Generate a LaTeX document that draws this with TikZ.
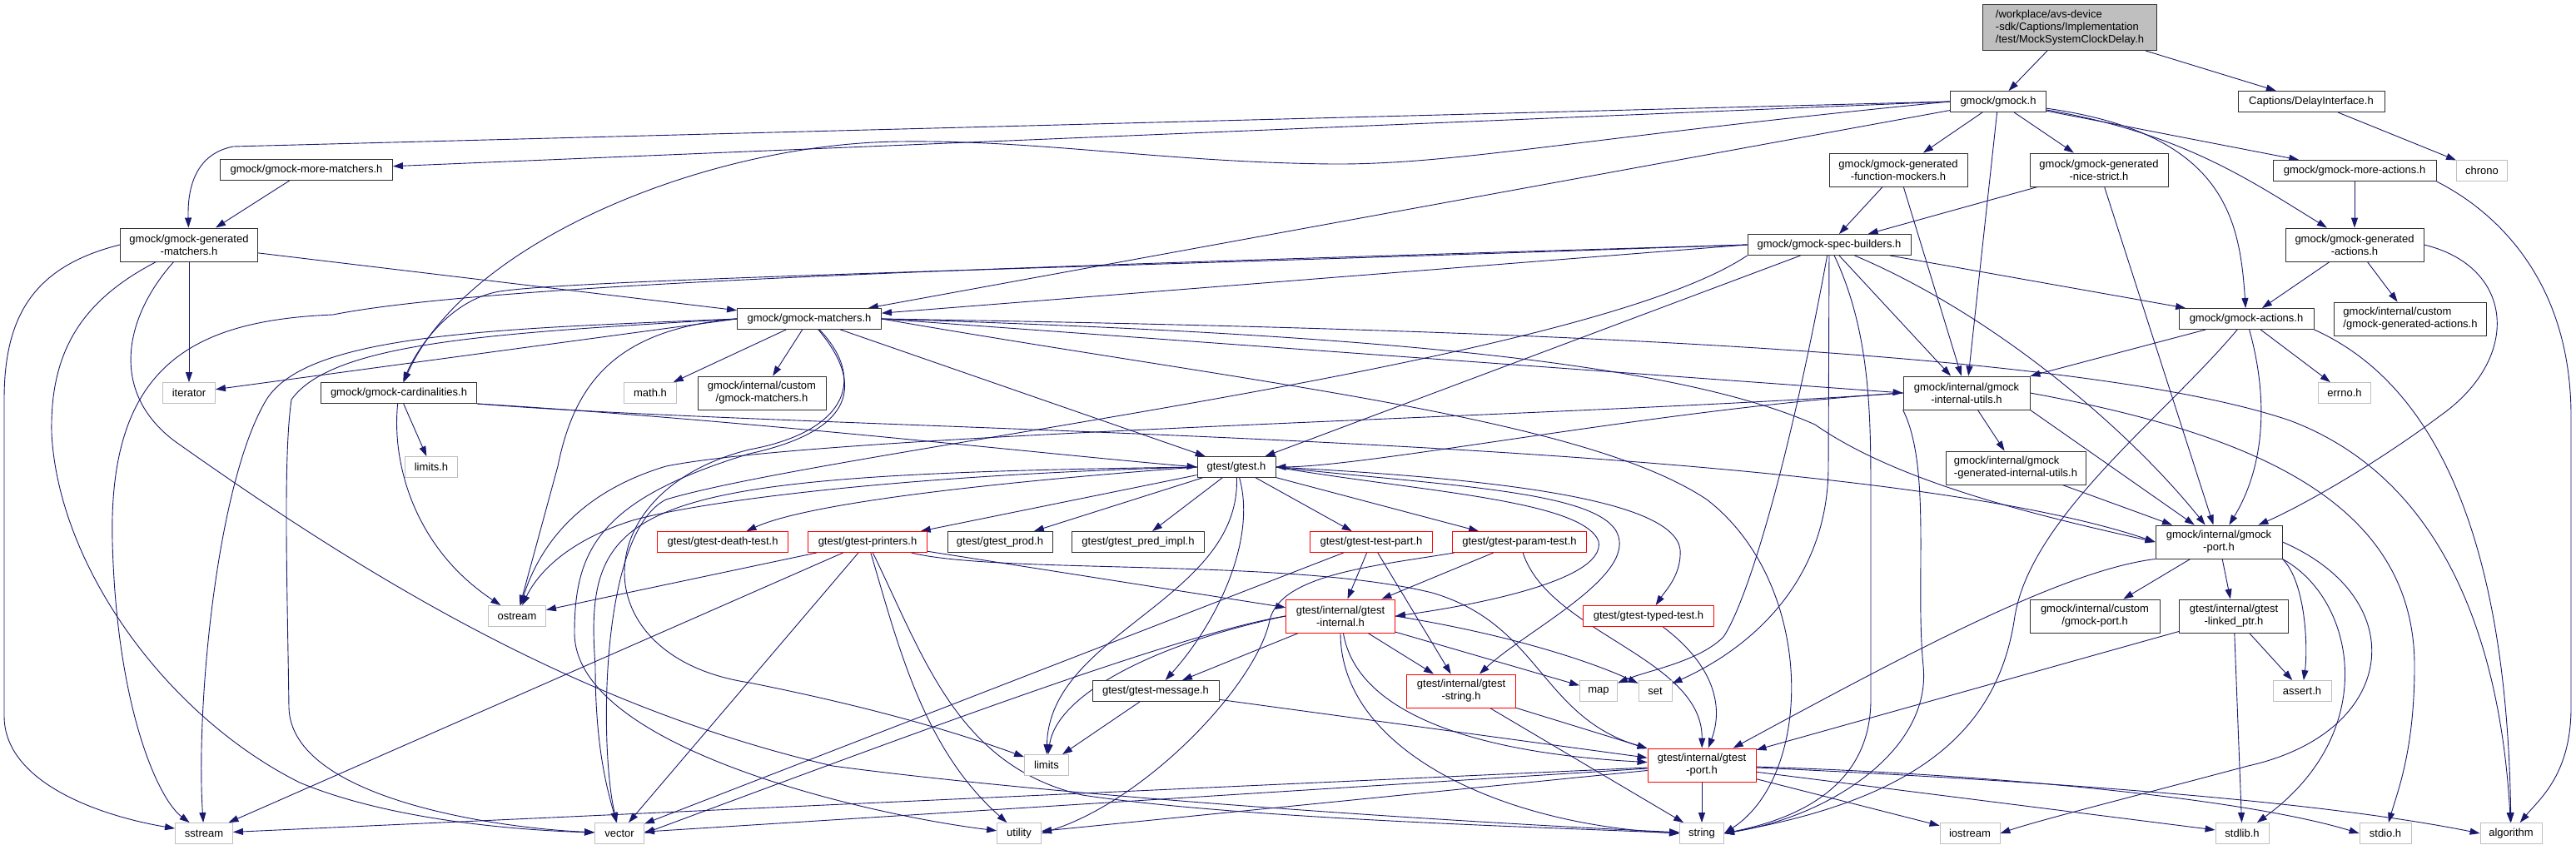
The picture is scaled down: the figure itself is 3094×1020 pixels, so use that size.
\documentclass[tikz,border=0pt]{standalone}
\usepackage{fontspec}
\setmainfont{Liberation Sans}
\usetikzlibrary{arrows.meta}
\definecolor{edgec}{HTML}{191970}
\definecolor{sysc}{HTML}{BFBFBF}
\definecolor{rootf}{HTML}{BFBFBF}
\definecolor{boxc}{HTML}{303030}
\newcommand\dxfont{\fontsize{13}{15}\selectfont}
\pgfdeclarelayer{bgl}
\pgfdeclarelayer{edgel}
\pgfsetlayers{bgl,edgel,main}
\tikzset{
  box/.style={draw=boxc, fill=white, line width=0.9pt, inner sep=0pt, align=center, font=\dxfont, minimum height=25pt},
  two/.style={minimum height=40pt},
  sysbox/.style={box, draw=sysc},
  redbox/.style={box, draw=red},
  dep/.style={draw=edgec, line width=0.9pt, -{Triangle[length=12pt,width=8pt]}}
}
\begin{document}
\begin{tikzpicture}[x=1pt,y=-1pt]
\begin{pgfonlayer}{bgl}
\fill[white] (0,0) rectangle (3094,1020);
\end{pgfonlayer}
\useasboundingbox (0,0) rectangle (3094,1020);
% nodes
\node[box, fill=rootf, align=left, minimum width=209pt, minimum height=55pt] (root) at (2486,33) {/workplace/avs-device\\-sdk/Captions/Implementation\\/test/MockSystemClockDelay.h};
\node[box, minimum width=115pt] (gmock) at (2400,122) {gmock/gmock.h};
\node[box, minimum width=176pt] (delay) at (2776,122) {Captions/DelayInterface.h};
\node[sysbox, minimum width=61pt] (chrono) at (2981,205) {chrono};
\node[box, minimum width=196pt] (moreact) at (2828,205) {gmock/gmock-more-actions.h};
\node[box, two, minimum width=166pt] (nicestrict) at (2521,204) {gmock/gmock-generated\\-nice-strict.h};
\node[box, two, minimum width=166pt] (funcmock) at (2280,204) {gmock/gmock-generated\\-function-mockers.h};
\node[box, two, minimum width=166pt] (genact) at (2828,294) {gmock/gmock-generated\\-actions.h};
\node[box, two, align=left, minimum width=183pt] (custgenact) at (2895,383) {gmock/internal/custom\\/gmock-generated-actions.h};
\node[box, minimum width=162pt] (actions) at (2698,383) {gmock/gmock-actions.h};
\node[sysbox, minimum width=63pt] (errno) at (2816,472) {errno.h};
\node[box, two, minimum width=152pt] (iutils) at (2362,472) {gmock/internal/gmock\\-internal-utils.h};
\node[box, minimum width=196pt] (spec) at (2197,294) {gmock/gmock-spec-builders.h};
\node[box, minimum width=207pt] (morematch) at (368,204) {gmock/gmock-more-matchers.h};
\node[box, two, minimum width=165pt] (genmatch) at (227,294) {gmock/gmock-generated\\-matchers.h};
\node[sysbox, minimum width=63pt] (iterator) at (227,472) {iterator};
\node[box, minimum width=187pt] (card) at (479,472) {gmock/gmock-cardinalities.h};
\node[sysbox, minimum width=63pt] (mathh) at (781,472) {math.h};
\node[box, minimum width=173pt] (matchers) at (972,383) {gmock/gmock-matchers.h};
\node[box, two, minimum width=154pt] (custmatch) at (915,472) {gmock/internal/custom\\/gmock-matchers.h};
\node[sysbox, minimum width=63pt] (limitsh) at (518,561) {limits.h};
\node[sysbox, minimum width=69pt] (ostream) at (621,740) {ostream};
\node[sysbox, minimum width=69pt] (sstream) at (245,1001) {sstream};
\node[sysbox, minimum width=59pt] (vector) at (744,1001) {vector};
\node[redbox, minimum width=157pt] (deathtest) at (868,651) {gtest/gtest-death-test.h};
\node[box, minimum width=94pt] (gtesth) at (1485,561) {gtest/gtest.h};
\node[redbox, minimum width=143pt] (printers) at (1042,651) {gtest/gtest-printers.h};
\node[box, minimum width=126pt] (prod) at (1201,651) {gtest/gtest\_prod.h};
\node[box, minimum width=159pt] (predimpl) at (1367,651) {gtest/gtest\_pred\_impl.h};
\node[box, minimum width=152pt] (gmessage) at (1388,830) {gtest/gtest-message.h};
\node[sysbox, minimum width=53pt] (limits) at (1257,919) {limits};
\node[sysbox, minimum width=53pt] (utility) at (1224,1001) {utility};
\node[redbox, minimum width=147pt] (testpart) at (1647,651) {gtest/gtest-test-part.h};
\node[redbox, minimum width=161pt] (paramtest) at (1825,651) {gtest/gtest-param-test.h};
\node[redbox, two, minimum width=131pt] (ginternal) at (1610,740) {gtest/internal/gtest\\-internal.h};
\node[redbox, minimum width=157pt] (typedtest) at (1980,740) {gtest/gtest-typed-test.h};
\node[redbox, two, minimum width=131pt] (gstring) at (1755,830) {gtest/internal/gtest\\-string.h};
\node[sysbox, minimum width=45pt] (map) at (1920,830) {map};
\node[sysbox, minimum width=40pt] (set) at (1988,830) {set};
\node[redbox, two, minimum width=130pt] (gport) at (2044,919) {gtest/internal/gtest\\-port.h};
\node[sysbox, minimum width=53pt] (string) at (2044,1001) {string};
\node[box, two, align=left, minimum width=168pt] (geniutils) at (2421,562) {gmock/internal/gmock\\-generated-internal-utils.h};
\node[box, two, minimum width=152pt] (gmockport) at (2665,651) {gmock/internal/gmock\\-port.h};
\node[box, two, minimum width=156pt] (custport) at (2516,740) {gmock/internal/custom\\/gmock-port.h};
\node[box, two, minimum width=131pt] (linkedptr) at (2683,740) {gtest/internal/gtest\\-linked\_ptr.h};
\node[sysbox, minimum width=70pt] (asserth) at (2765,830) {assert.h};
\node[sysbox, minimum width=72pt] (iostream) at (2366,1001) {iostream};
\node[sysbox, minimum width=64pt] (stdlib) at (2693,1001) {stdlib.h};
\node[sysbox, minimum width=62pt] (stdio) at (2865,1001) {stdio.h};
\node[sysbox, minimum width=74pt] (algorithm) at (3016,1001) {algorithm};
% edges
\begin{pgfonlayer}{edgel}
\draw[dep] (root) -- (gmock);
\draw[dep] (root) -- (delay);
\draw[dep] (delay) -- (chrono);
% gmock.h
\draw[dep] (gmock) -- (funcmock);
\draw[dep] (gmock) -- (nicestrict);
\draw[dep] (gmock) -- (iutils);
\draw[dep] (gmock) .. controls (2670,160) and (2690,260) .. (actions);
\draw[dep] (gmock) .. controls (2620,160) and (2700,215) .. (genact);
\draw[dep] (gmock) -- (moreact);
\draw[dep] (gmock.west) -- (morematch);
\draw[dep] (gmock.west) -- (280,176) .. controls (235,185) and (225,225) .. (genmatch);
\draw[dep] (gmock) -- (matchers);
\draw[dep] (gmock.west) .. controls (1900,165) and (1750,198) .. (1600,197) .. controls (1400,195) and (1250,168) .. (1082,170) .. controls (850,172) and (560,290) .. (card);
% matchers family
\draw[dep] (morematch) -- (genmatch);
\draw[dep] (genmatch) -- (iterator);
\draw[dep] (genmatch) -- (matchers);
\draw[dep] (genmatch.west) .. controls (40,320) and (5,380) .. (5,480) -- (5,860) .. controls (5,940) and (120,980) .. (sstream);
\draw[dep] (genmatch) .. controls (100,360) and (60,420) .. (62,520) .. controls (70,680) and (200,860) .. (360,940) .. controls (480,990) and (650,998) .. (vector);
\draw[dep] (genmatch) .. controls (150,380) and (130,470) .. (210,530) .. controls (450,700) and (700,850) .. (1000,920) .. controls (1300,960) and (1800,990) .. (string);
\draw[dep] (matchers) -- (mathh);
\draw[dep] (matchers) -- (custmatch);
\draw[dep] (matchers.west) -- (iterator);
\draw[dep] (matchers.west) .. controls (740,395) and (690,460) .. (670,560) -- (ostream);
\draw[dep] (matchers.west) .. controls (600,395) and (370,400) .. (320,480) .. controls (260,580) and (235,850) .. (sstream);
\draw[dep] (matchers.west) .. controls (600,400) and (400,410) .. (350,480) .. controls (340,550) and (345,700) .. (347,850) .. controls (350,960) and (600,995) .. (vector);
\draw[dep] (matchers) .. controls (1045,460) and (1010,520) .. (900,540) .. controls (700,590) and (700,790) .. (900,820) .. controls (1050,850) and (1150,880) .. (limits);
\draw[dep] (matchers) .. controls (1045,470) and (1015,520) .. (900,545) .. controls (720,600) and (690,660) .. (690,760) .. controls (690,900) and (1050,980) .. (utility);
\draw[dep] (matchers.east) -- (iutils.west);
\draw[dep] (matchers) -- (gtesth);
\draw[dep] (matchers.east) .. controls (1500,460) and (1900,500) .. (2050,600) .. controls (2180,700) and (2180,930) .. (string.east);
\draw[dep] (matchers.east) .. controls (1600,400) and (2000,430) .. (2180,510) .. controls (2280,580) and (2450,620) .. (gmockport.west);
\draw[dep] (matchers.east) .. controls (1800,395) and (2500,420) .. (2750,505) .. controls (2950,580) and (3005,800) .. (algorithm);
% cardinalities
\draw[dep] (card) -- (limitsh);
\draw[dep] (card) .. controls (470,560) and (500,660) .. (ostream);
\draw[dep] (card.south east) .. controls (900,505) and (1250,545) .. (gtesth.west);
\draw[dep] (card.south east) .. controls (1000,520) and (2200,520) .. (gmockport.west);
% spec builders
\draw[dep] (spec) -- (actions);
\draw[dep] (spec) -- (iutils);
\draw[dep] (spec) -- (gtesth);
\draw[dep] (spec.west) -- (matchers);
\draw[dep] (spec.west) .. controls (1300,322) and (700,335) .. (600,350) .. controls (540,360) and (500,420) .. (card);
\draw[dep] (spec.west) .. controls (1300,318) and (600,338) .. (400,378) .. controls (230,385) and (130,440) .. (135,650) .. controls (140,850) and (190,960) .. (sstream);
\draw[dep] (spec.south west) .. controls (1900,440) and (1000,540) .. (800,600) .. controls (720,640) and (720,900) .. (vector);
\draw[dep] (spec) .. controls (2150,550) and (2100,720) .. (2070,765) .. controls (2040,795) and (1980,805) .. (map);
\draw[dep] (spec) -- (2196,560) .. controls (2196,700) and (2100,780) .. (set);
\draw[dep] (spec) .. controls (2247,400) and (2247,500) .. (2247,600) -- (2247,840) .. controls (2247,950) and (2150,985) .. (string.east);
\draw[dep] (spec) .. controls (2400,380) and (2560,520) .. (gmockport);
% mockers
\draw[dep] (funcmock) -- (spec);
\draw[dep] (funcmock) -- (iutils);
\draw[dep] (nicestrict) -- (spec);
\draw[dep] (nicestrict) -- (gmockport);
% actions
\draw[dep] (moreact) -- (genact);
\draw[dep] (moreact.south east) .. controls (2990,250) and (3088,330) .. (3088,500) -- (3088,850) .. controls (3088,930) and (3050,960) .. (algorithm);
\draw[dep] (genact) -- (actions);
\draw[dep] (genact) -- (custgenact);
\draw[dep] (genact.east) .. controls (3020,320) and (3030,430) .. (2930,500) .. controls (2850,560) and (2760,610) .. (gmockport);
\draw[dep] (actions) -- (errno);
\draw[dep] (actions) -- (iutils);
\draw[dep] (actions) .. controls (2725,480) and (2720,560) .. (gmockport);
\draw[dep] (actions.south east) .. controls (2900,450) and (3010,600) .. (algorithm);
\draw[dep] (actions) .. controls (2600,500) and (2440,620) .. (2420,740) .. controls (2400,880) and (2300,960) .. (string.east);
% internal utils
\draw[dep] (iutils) -- (geniutils);
\draw[dep] (iutils.south east) -- (gmockport);
\draw[dep] (iutils.east) .. controls (2700,520) and (2900,600) .. (2900,800) .. controls (2900,900) and (2880,950) .. (stdio);
\draw[dep] (iutils.south west) .. controls (2320,560) and (2300,700) .. (2310,800) .. controls (2320,900) and (2200,980) .. (string.east);
\draw[dep] (iutils.west) .. controls (2000,490) and (1650,560) .. (gtesth.east);
\draw[dep] (iutils.west) .. controls (1900,500) and (1000,520) .. (800,560) .. controls (700,590) and (650,650) .. (ostream);
\draw[dep] (geniutils) -- (gmockport);
% gmock port
\draw[dep] (gmockport) -- (custport);
\draw[dep] (gmockport) -- (linkedptr);
\draw[dep] (gmockport.south east) .. controls (2770,700) and (2772,780) .. (asserth);
\draw[dep] (gmockport.south east) .. controls (2830,720) and (2860,880) .. (stdlib);
\draw[dep] (gmockport.east) .. controls (2900,720) and (2880,880) .. (2700,920) .. controls (2550,960) and (2450,985) .. (iostream.east);
\draw[dep] (gmockport.south west) .. controls (2480,685) and (2300,780) .. (gport);
\draw[dep] (linkedptr) -- (stdlib);
\draw[dep] (linkedptr) -- (asserth);
\draw[dep] (linkedptr) -- (gport);
% gtest.h
\draw[dep] (gtesth.west) .. controls (1250,575) and (980,600) .. (deathtest);
\draw[dep] (gtesth) -- (printers);
\draw[dep] (gtesth) -- (prod);
\draw[dep] (gtesth) -- (predimpl);
\draw[dep] (gtesth) -- (testpart);
\draw[dep] (gtesth) -- (paramtest);
\draw[dep] (gtesth.east) .. controls (1800,575) and (2010,600) .. (2018,660) .. controls (2020,690) and (2000,710) .. (typedtest);
\draw[dep] (gtesth.east) .. controls (1700,590) and (1900,600) .. (1920,650) .. controls (1930,700) and (1750,730) .. (ginternal.east);
\draw[dep] (gtesth.east) .. controls (1750,585) and (1940,590) .. (1945,650) .. controls (1950,700) and (1830,760) .. (gstring);
\draw[dep] (gtesth) .. controls (1510,650) and (1460,750) .. (gmessage);
\draw[dep] (gtesth) .. controls (1490,720) and (1260,760) .. (limits);
\draw[dep] (gtesth.west) .. controls (1100,570) and (850,600) .. (760,625) .. controls (680,650) and (645,690) .. (ostream);
\draw[dep] (gtesth.west) .. controls (760,570) and (700,600) .. (715,800) .. controls (715,900) and (730,950) .. (vector);
% printers
\draw[dep] (printers) -- (ostream);
\draw[dep] (printers) -- (sstream);
\draw[dep] (printers) -- (vector);
\draw[dep] (printers) .. controls (1080,780) and (1110,900) .. (utility);
\draw[dep] (printers) .. controls (1110,790) and (1150,920) .. (1300,955) .. controls (1500,985) and (1900,995) .. (string.west);
\draw[dep] (printers) .. controls (1200,690) and (1550,670) .. (1720,712) .. controls (1850,750) and (1850,860) .. (gport);
\draw[dep] (printers) -- (ginternal);
% test part, param test, typed test
\draw[dep] (testpart) -- (vector);
\draw[dep] (testpart) -- (ginternal);
\draw[dep] (testpart) -- (gstring);
\draw[dep] (paramtest) .. controls (1650,680) and (1538,690) .. (1525,745) .. controls (1510,820) and (1380,960) .. (utility.east);
\draw[dep] (paramtest) -- (ginternal);
\draw[dep] (paramtest) .. controls (1860,760) and (2045,790) .. (gport);
\draw[dep] (typedtest) .. controls (2060,800) and (2070,850) .. (gport);
% message
\draw[dep] (gmessage) -- (limits);
\draw[dep] (gmessage) -- (gport);
% gtest internal
\draw[dep] (ginternal) .. controls (1630,860) and (1780,905) .. (gport);
\draw[dep] (ginternal.west) .. controls (1400,770) and (1270,830) .. (limits);
\draw[dep] (ginternal) -- (map);
\draw[dep] (ginternal.east) .. controls (1800,760) and (1900,790) .. (set);
\draw[dep] (ginternal) .. controls (1610,900) and (1800,990) .. (string.west);
\draw[dep] (ginternal.west) .. controls (1420,760) and (1100,880) .. (vector.east);
\draw[dep] (ginternal) -- (gmessage);
\draw[dep] (ginternal) -- (gstring);
% gtest string
\draw[dep] (gstring) -- (string);
\draw[dep] (gstring) -- (gport);
% gtest port
\draw[dep] (gport) -- (string);
\draw[dep] (gport) -- (stdlib);
\draw[dep] (gport) .. controls (2400,930) and (2700,960) .. (stdio.west);
\draw[dep] (gport) .. controls (2500,940) and (2800,965) .. (algorithm.west);
\draw[dep] (gport) -- (iostream);
\draw[dep] (gport) -- (sstream);
\draw[dep] (gport) -- (vector);
\draw[dep] (gport) -- (utility);
\end{pgfonlayer}
\end{tikzpicture}
\end{document}
